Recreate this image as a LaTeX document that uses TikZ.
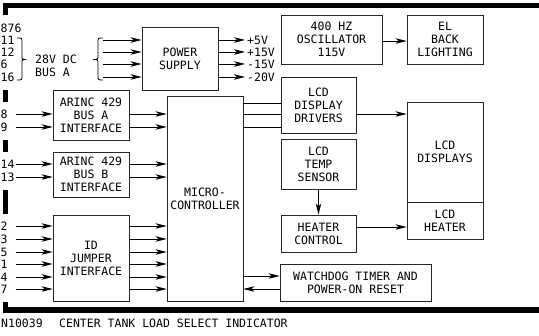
\documentclass[tikz,border=0pt]{standalone}
\usepackage{fontspec}
\setmainfont{DejaVu Sans Mono}
\usetikzlibrary{arrows.meta}
\begin{document}
\begin{tikzpicture}[x=1pt,y=-1pt,
  every node/.style={font=\fontsize{11.5}{13}\selectfont},
  box/.style={draw=black!85, line width=0.9pt, align=center, inner sep=0pt},
  lbl/.style={inner sep=0pt},
  arr/.style={-{Stealth[length=11pt,width=5.5pt,inset=3pt]}, line width=0.8pt},
  ln/.style={line width=0.8pt},
  bar/.style={fill=black}]
\useasboundingbox (0,0) rectangle (539,336);
\clip (0,0) rectangle (539,336);

% frame pieces
\fill[bar] (3,3.5) rectangle (539,8.5);
\fill[bar] (3,3.5) rectangle (8,15);
\fill[bar] (3,90) rectangle (8,102);
\fill[bar] (3,140) rectangle (8,152);
\fill[bar] (3,190) rectangle (8,214);
\fill[bar] (3,302) rectangle (8,313);
\fill[bar] (3,307.5) rectangle (539,313);

% boxes
\node[box, minimum width=76pt, minimum height=63pt] (ps) at (180,58.5) {POWER\\SUPPLY};
\node[box, minimum width=101pt, minimum height=49pt] (osc) at (331.5,39.5) {400 HZ\\OSCILLATOR\\115V};
\node[box, minimum width=76pt, minimum height=49pt] (el) at (445,39.5) {EL\\BACK\\LIGHTING};
\node[box, minimum width=75pt, minimum height=56pt] (drv) at (318.5,105) {LCD\\DISPLAY\\DRIVERS};
\node[box, minimum width=75pt, minimum height=50pt] (sen) at (318.5,164) {LCD\\TEMP\\SENSOR};
\node[box, minimum width=75pt, minimum height=37pt] (htc) at (318.5,233.5) {HEATER\\CONTROL};
\node[box, minimum width=76pt, minimum height=100pt] (disp) at (445,152) {LCD\\DISPLAYS};
\node[box, minimum width=76pt, minimum height=37pt] (htr) at (445,220.5) {LCD\\HEATER};
\node[box, minimum width=76pt, minimum height=205pt] (mc) at (205,198.5) {MICRO-\\CONTROLLER};
\node[box, minimum width=76pt, minimum height=50pt] (arA) at (91,115) {ARINC 429\\BUS A\\INTERFACE};
\node[box, minimum width=76pt, minimum height=45pt] (arB) at (91,174.5) {ARINC 429\\BUS B\\INTERFACE};
\node[box, minimum width=76pt, minimum height=86pt] (id) at (91,258) {ID\\JUMPER\\INTERFACE};
\node[box, minimum width=151pt, minimum height=37pt] (wd) at (355.5,282.5) {WATCHDOG TIMER AND\\POWER-ON RESET};

% power input labels and braces
\node[lbl, anchor=west] (p876) at (0.5,28) {876};
\node[lbl, anchor=west] (p11) at (0.5,40) {11};
\node[lbl, anchor=west] (p12) at (0.5,52) {12};
\node[lbl, anchor=west] (p6) at (0.5,64) {6};
\node[lbl, anchor=west] (p16) at (0.5,77) {16};
\draw[ln] (17,38) .. controls (22,38) .. (22,43) -- (22,55) .. controls (22,59.5) .. (25,59.5)
  .. controls (22,59.5) .. (22,64) -- (22,75) .. controls (22,80) .. (17,80);
\node[lbl, anchor=west, align=left] (bus) at (35,66) {28V DC\\BUS A};
\draw[ln] (103,38) .. controls (98,38) .. (98,43) -- (98,55) .. controls (98,59.5) .. (93,59.5)
  .. controls (98,59.5) .. (98,64) -- (98,75) .. controls (98,80) .. (103,80);
\foreach \y/\n in {40/a,52/b,64/c,77/d}{
  \coordinate (pw\n) at (103,\y);
  \draw[arr] (pw\n) -- (ps.west |- pw\n);
}

% power outputs
\node[lbl, anchor=west, inner xsep=2pt] (v5) at (245,40) {+5V};
\node[lbl, anchor=west, inner xsep=2pt] (v15) at (245,52) {+15V};
\node[lbl, anchor=west, inner xsep=2pt] (vm15) at (245,64) {-15V};
\node[lbl, anchor=west, inner xsep=2pt] (vm20) at (245,77) {-20V};
\foreach \n in {v5,v15,vm15,vm20}{
  \draw[arr] (ps.east |- \n.west) -- (\n.west);
}

% oscillator to EL
\draw[arr] (osc.east |- 0,41) -- (el.west |- 0,41);

% ARINC A
\node[lbl, anchor=west] (l8) at (0.5,114) {8};
\node[lbl, anchor=west] (l9) at (0.5,127) {9};
\coordinate (i8) at (15.5,114);
\coordinate (i9) at (15.5,127);
\draw[arr] (i8) -- (arA.west |- i8);
\draw[arr] (i9) -- (arA.west |- i9);
\draw[arr] (arA.east |- i8) -- (mc.west |- i8);
\draw[arr] (arA.east |- i9) -- (mc.west |- i9);

% ARINC B
\node[lbl, anchor=west] (l14) at (0.5,164) {14};
\node[lbl, anchor=west] (l13) at (0.5,177) {13};
\coordinate (i14) at (15.5,164);
\coordinate (i13) at (15.5,177);
\draw[arr] (i14) -- (arB.west |- i14);
\draw[arr] (i13) -- (arB.west |- i13);
\draw[arr] (arB.east |- i14) -- (mc.west |- i14);
\draw[arr] (arB.east |- i13) -- (mc.west |- i13);

% ID jumpers
\foreach \y/\t in {226/2,239/3,252/5,264/1,277/4,289/7}{
  \node[lbl, anchor=west] (lj\t) at (0.5,\y) {\t};
  \coordinate (ij\t) at (15.5,\y);
  \draw[arr] (ij\t) -- (id.west |- ij\t);
  \draw[arr] (id.east |- ij\t) -- (mc.west |- ij\t);
}

% micro to drivers
\foreach \y in {103,114,127}{
  \draw[ln] (mc.east |- 0,\y) -- (drv.west |- 0,\y);
}
% drivers to displays
\draw[arr] (drv.east |- 0,114) -- (disp.west |- 0,114);
% sensor to heater control
\draw[arr] (sen.south) -- (htc.north);
% heater control to heater
\draw[arr] (htc.east |- 0,227) -- (htr.west |- 0,227);
% watchdog
\draw[arr] (mc.east |- 0,276) -- (wd.west |- 0,276);
\draw[arr] (wd.west |- 0,289) -- (mc.east |- 0,289);

% caption
\node[lbl, anchor=west] (cap1) at (1,323) {N10039};
\node[lbl, anchor=west] (cap2) at (59,323) {CENTER TANK LOAD SELECT INDICATOR};
\end{tikzpicture}
\end{document}
